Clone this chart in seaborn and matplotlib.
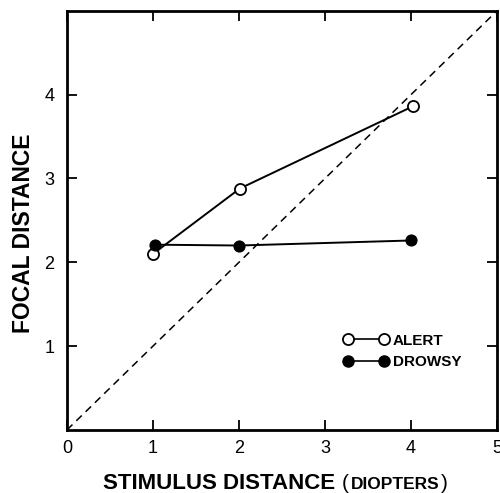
import matplotlib
matplotlib.use("Agg")
import matplotlib.pyplot as plt
import seaborn as sns
import pandas as pd
from matplotlib.lines import Line2D

sns.set_theme(style="ticks")
plt.rcParams["font.family"] = ["Liberation Sans", "DejaVu Sans"]
plt.rcParams["text.color"] = "black"
plt.rcParams["axes.labelcolor"] = "black"

# Focal distance versus stimulus distance (diopters)
alert_x = [1.0, 2.01, 4.02]
alert_y = [2.10, 2.88, 3.86]
drowsy_x = [1.02, 2.0, 4.0]
drowsy_y = [2.21, 2.20, 2.26]
x_ticks = [0, 1, 2, 3, 4, 5]
y_ticks = [1, 2, 3, 4]

alert = pd.DataFrame({"stim": alert_x, "focal": alert_y})
drowsy = pd.DataFrame({"stim": drowsy_x, "focal": drowsy_y})

fig = plt.figure(figsize=(5.0, 4.93), dpi=100)
ax = fig.add_axes([0.134, 0.128, 0.860, 0.850])

# identity line
ax.plot([0, 5], [0, 5], ls=(0, (5, 3.5)), color="black", lw=1.1, zorder=1)

sns.lineplot(data=alert, x="stim", y="focal", ax=ax, color="black", lw=1.4,
             marker="o", markersize=8, markerfacecolor="white",
             markeredgecolor="black", markeredgewidth=1.3, zorder=3)
sns.lineplot(data=drowsy, x="stim", y="focal", ax=ax, color="black", lw=1.4,
             marker="o", markersize=8, markerfacecolor="black",
             markeredgecolor="black", zorder=3)

ax.set_xlim(0, 5)
ax.set_ylim(0, 5)
ax.set_xticks(x_ticks)
ax.set_xticklabels([str(v) for v in x_ticks])
ax.set_yticks(y_ticks)
ax.set_yticklabels([str(v) for v in y_ticks])
ax.tick_params(axis="both", direction="in", length=7, width=1.3,
               labelsize=13, colors="black", top=True, right=True)
ax.tick_params(axis="x", pad=7)
ax.tick_params(axis="y", pad=9)
for s in ax.spines.values():
    s.set_linewidth(2.0)
    s.set_color("black")

ax.set_ylabel("FOCAL DISTANCE", fontsize=16.5, fontweight="bold")
ax.yaxis.set_label_coords(-0.075, 0.47)
ax.set_xlabel("")

# x-axis title: bold words followed by a small-caps unit in parentheses
renderer = fig.canvas.get_renderer()
base_y = 0.008
t1 = fig.text(0.206, base_y, "STIMULUS DISTANCE", fontsize=16,
              fontweight="bold", ha="left", va="baseline")
x = fig.transFigure.inverted().transform(
    (t1.get_window_extent(renderer).x1, 0))[0] + 0.014
t2 = fig.text(x, base_y, "(", fontsize=15, ha="left", va="baseline")
x = fig.transFigure.inverted().transform(
    (t2.get_window_extent(renderer).x1, 0))[0] + 0.003
t3 = fig.text(x, base_y, "DIOPTERS", fontsize=12.5, fontweight="bold",
              ha="left", va="baseline")
x = fig.transFigure.inverted().transform(
    (t3.get_window_extent(renderer).x1, 0))[0] + 0.003
fig.text(x, base_y, ")", fontsize=15, ha="left", va="baseline")

handles = [
    Line2D([], [], color="black", lw=1.2, marker="o", markersize=8,
           markerfacecolor="white", markeredgecolor="black", markeredgewidth=1.3),
    Line2D([], [], color="black", lw=1.2, marker="o", markersize=8,
           markerfacecolor="black", markeredgecolor="black"),
]
leg = ax.legend(handles, ["ALERT", "DROWSY"], loc="center left",
                bbox_to_anchor=(0.61, 0.187), frameon=False, numpoints=2,
                handlelength=3.0, handletextpad=0.25, labelspacing=0.5,
                prop={"size": 11, "weight": "bold"})

fig.savefig("out.png", dpi=100)
